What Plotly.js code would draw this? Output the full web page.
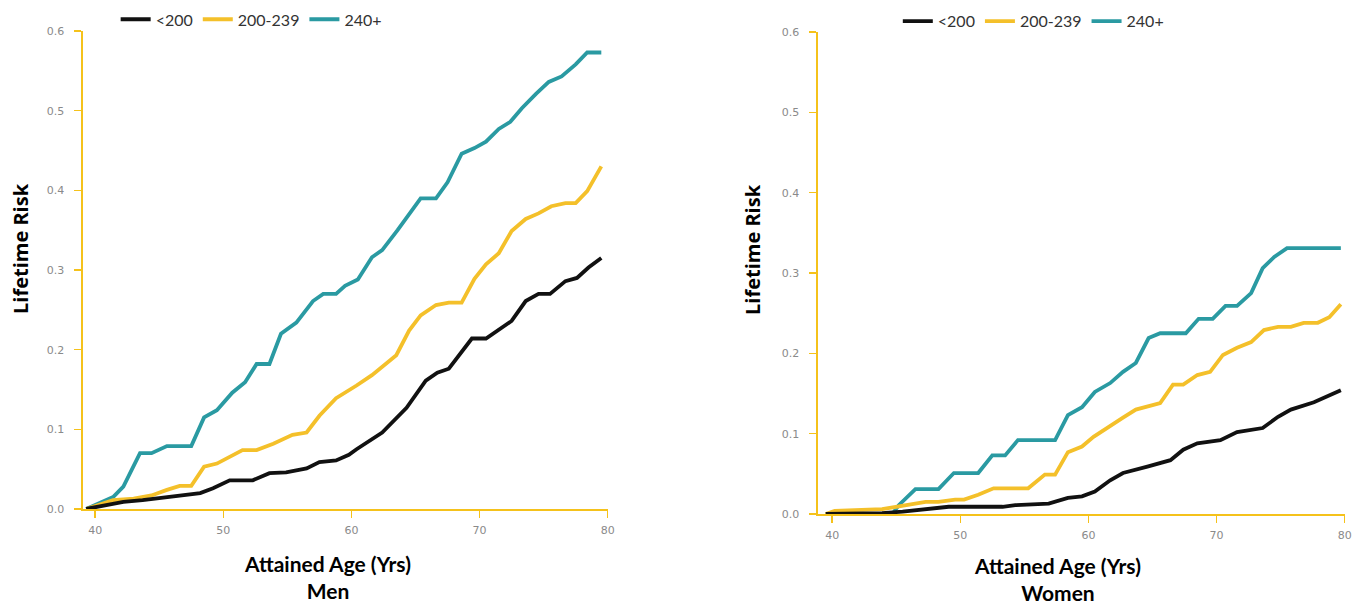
<!DOCTYPE html>
<html>
<head>
<meta charset="utf-8">
<script src="https://cdn.plot.ly/plotly-3.0.1.min.js"></script>
<style>html,body{margin:0;padding:0;background:#fff;}#chart{width:1365px;height:605px;}</style>
</head>
<body>
<div id="chart"></div>
<script>
// ---- Data ----
const seriesNames = ["<200", "200-239", "240+"];
const xTickVals = [40, 50, 60, 70, 80];
const yTickVals = [0.0, 0.1, 0.2, 0.3, 0.4, 0.5, 0.6];
const yTickText = ["0.0", "0.1", "0.2", "0.3", "0.4", "0.5", "0.6"];
const panelLabels = ["Men", "Women"];

// Men
const menAgeLow = [39.3, 40.9, 42.2, 43.7, 45.1, 46.6, 48.2, 49.2, 50.5, 52.3, 53.6, 54.9, 56.5, 57.5, 58.8, 59.8, 60.4, 62.4, 64.3, 65.8, 66.7, 67.6, 69.4, 70.5, 72.5, 73.6, 74.6, 75.5, 76.7, 77.6, 78.5, 79.5];
const menRiskLow = [0.0, 0.005, 0.009, 0.011, 0.014, 0.017, 0.020, 0.026, 0.036, 0.036, 0.045, 0.046, 0.051, 0.059, 0.061, 0.068, 0.075, 0.096, 0.127, 0.161, 0.171, 0.176, 0.214, 0.214, 0.236, 0.261, 0.270, 0.270, 0.286, 0.290, 0.303, 0.315];

const menAgeMid = [39.3, 41.4, 43.0, 44.4, 45.6, 46.6, 47.5, 48.5, 49.5, 50.5, 51.5, 52.6, 53.9, 55.4, 56.5, 57.5, 58.8, 60.4, 61.6, 63.5, 64.5, 65.4, 66.6, 67.6, 68.6, 69.6, 70.5, 71.5, 72.5, 73.6, 74.6, 75.6, 76.7, 77.5, 78.4, 79.5];
const menRiskMid = [0.0, 0.011, 0.013, 0.017, 0.024, 0.029, 0.029, 0.053, 0.057, 0.065, 0.074, 0.074, 0.082, 0.093, 0.096, 0.117, 0.139, 0.155, 0.168, 0.193, 0.224, 0.243, 0.256, 0.259, 0.259, 0.289, 0.307, 0.321, 0.349, 0.364, 0.371, 0.380, 0.384, 0.384, 0.399, 0.430];

const menAgeHigh = [39.3, 41.4, 42.2, 43.5, 44.4, 45.6, 47.5, 48.5, 49.5, 50.7, 51.7, 52.6, 53.6, 54.5, 55.7, 57.0, 57.8, 58.8, 59.5, 60.5, 61.6, 62.4, 63.6, 65.4, 66.6, 67.5, 68.6, 69.6, 70.5, 71.5, 72.4, 73.3, 74.4, 75.4, 76.4, 77.5, 78.4, 79.5];
const menRiskHigh = [0.0, 0.015, 0.028, 0.070, 0.070, 0.079, 0.079, 0.115, 0.124, 0.146, 0.159, 0.182, 0.182, 0.220, 0.234, 0.261, 0.270, 0.270, 0.280, 0.288, 0.316, 0.325, 0.350, 0.390, 0.390, 0.410, 0.446, 0.453, 0.461, 0.477, 0.486, 0.503, 0.521, 0.536, 0.543, 0.558, 0.573, 0.573];

// Women
const womenAgeLow = [39.5, 43.9, 45.5, 47.3, 49.1, 53.3, 54.3, 56.9, 58.4, 59.5, 60.5, 61.7, 62.7, 64.6, 66.4, 67.4, 68.5, 70.3, 71.6, 73.6, 74.8, 75.8, 77.6, 79.7];
const womenRiskLow = [0.0, 0.001, 0.003, 0.006, 0.009, 0.009, 0.011, 0.013, 0.020, 0.022, 0.028, 0.042, 0.051, 0.059, 0.067, 0.080, 0.088, 0.092, 0.102, 0.107, 0.121, 0.130, 0.139, 0.154];

const womenAgeMid = [39.5, 40.2, 43.9, 44.9, 47.3, 48.3, 49.6, 50.3, 51.4, 52.6, 55.3, 56.6, 57.4, 58.4, 59.5, 60.4, 61.5, 62.7, 63.7, 65.6, 66.6, 67.4, 68.5, 69.5, 70.5, 71.6, 72.7, 73.7, 74.8, 75.8, 76.8, 77.9, 78.8, 79.7];
const womenRiskMid = [0.0, 0.004, 0.006, 0.009, 0.015, 0.015, 0.018, 0.018, 0.024, 0.032, 0.032, 0.049, 0.049, 0.077, 0.084, 0.096, 0.108, 0.120, 0.130, 0.138, 0.161, 0.161, 0.173, 0.177, 0.198, 0.207, 0.214, 0.229, 0.233, 0.233, 0.238, 0.238, 0.245, 0.261];

const womenAgeHigh = [39.5, 44.7, 45.2, 46.5, 48.3, 49.5, 51.4, 52.5, 53.5, 54.5, 57.4, 58.4, 59.5, 60.5, 61.7, 62.7, 63.7, 64.7, 65.6, 67.6, 68.6, 69.7, 70.7, 71.6, 72.7, 73.6, 74.5, 75.5, 79.7];
const womenRiskHigh = [0.0, 0.0, 0.011, 0.031, 0.031, 0.051, 0.051, 0.073, 0.073, 0.092, 0.092, 0.123, 0.133, 0.152, 0.163, 0.177, 0.188, 0.219, 0.225, 0.225, 0.243, 0.243, 0.259, 0.259, 0.275, 0.306, 0.320, 0.331, 0.331];

// ---- Styles ----
const colors = ["#111111", "#F4C02A", "#2A9AA2"];
const gold = "#F5C21B";
const lineW = 3.8;

function tr(x, y, idx, xa, ya, leg) {
  return {
    x: x, y: y, type: "scatter", mode: "lines",
    name: seriesNames[idx], xaxis: xa, yaxis: ya, legend: leg,
    legendrank: idx + 1,
    line: {color: colors[idx], width: lineW}
  };
}

const data = [
  tr(menAgeHigh, menRiskHigh, 2, "x", "y", "legend"),
  tr(menAgeMid, menRiskMid, 1, "x", "y", "legend"),
  tr(menAgeLow, menRiskLow, 0, "x", "y", "legend"),
  tr(womenAgeHigh, womenRiskHigh, 2, "x2", "y2", "legend2"),
  tr(womenAgeMid, womenRiskMid, 1, "x2", "y2", "legend2"),
  tr(womenAgeLow, womenRiskLow, 0, "x2", "y2", "legend2")
];

const tickFont = {family: "DejaVu Sans", size: 11, color: "#8a8a8a"};
function xAxis(domain, range, anchor) {
  return {
    domain: domain, range: range, anchor: anchor,
    tickvals: xTickVals, ticks: "outside", ticklen: 7, tickcolor: gold, tickwidth: 1.5,
    showline: true, linecolor: gold, linewidth: 1.6, showgrid: false, zeroline: false,
    tickfont: tickFont, ticklabelstandoff: 3, fixedrange: true
  };
}
function yAxis(domain, anchor) {
  return {
    domain: domain, range: [0, 0.6], anchor: anchor,
    tickvals: yTickVals, ticktext: yTickText, ticks: "outside", ticklen: 7, tickcolor: gold, tickwidth: 1.5,
    showline: true, linecolor: gold, linewidth: 1.6, showgrid: false, zeroline: false,
    tickfont: tickFont, ticklabelstandoff: 8, fixedrange: true
  };
}

const titleFont = {family: "Open Sans", size: 20, color: "#000", weight: 700};
const xTitleFont = {family: "Lato", size: 21, color: "#000", weight: 700};

const legendStyle = {
  orientation: "h", xanchor: "center", yanchor: "middle",
  font: {family: "Lato", size: 16, color: "#333"},
  bgcolor: "rgba(0,0,0,0)", itemwidth: 30, tracegroupgap: 0
};

const layout = {
  width: 1365, height: 605,
  margin: {l: 0, r: 0, t: 0, b: 0},
  paper_bgcolor: "#fff", plot_bgcolor: "#fff",
  showlegend: true,
  xaxis: xAxis([0.0608, 0.4454], [39.05, 80.02], "y"),
  yaxis: yAxis([0.1587, 0.9488], "x"),
  xaxis2: xAxis([0.5993, 0.9854], [38.9, 80.03], "y2"),
  yaxis2: yAxis([0.1504, 0.9471], "x2"),
  legend: Object.assign({}, legendStyle, {x: 0.184, y: 0.968}),
  legend2: Object.assign({}, legendStyle, {x: 0.757, y: 0.965}),
  annotations: [
    {text: "Lifetime Risk", textangle: -90, xref: "paper", yref: "paper", x: 20 / 1365, y: 1 - 249 / 605,
     showarrow: false, font: titleFont, xanchor: "center", yanchor: "middle"},
    {text: "Lifetime Risk", textangle: -90, xref: "paper", yref: "paper", x: 753 / 1365, y: 1 - 250 / 605,
     showarrow: false, font: titleFont, xanchor: "center", yanchor: "middle"},
    {text: "Attained Age (Yrs)<br>" + panelLabels[0], xref: "paper", yref: "paper", x: 327 / 1365, y: 1 - 577 / 605,
     showarrow: false, font: xTitleFont, xanchor: "center", yanchor: "middle", align: "center"},
    {text: "Attained Age (Yrs)<br>" + panelLabels[1], xref: "paper", yref: "paper", x: 1057 / 1365, y: 1 - 579 / 605,
     showarrow: false, font: xTitleFont, xanchor: "center", yanchor: "middle", align: "center"}
  ]
};

Plotly.newPlot("chart", data, layout, {displayModeBar: false, staticPlot: true});
</script>
</body>
</html>
